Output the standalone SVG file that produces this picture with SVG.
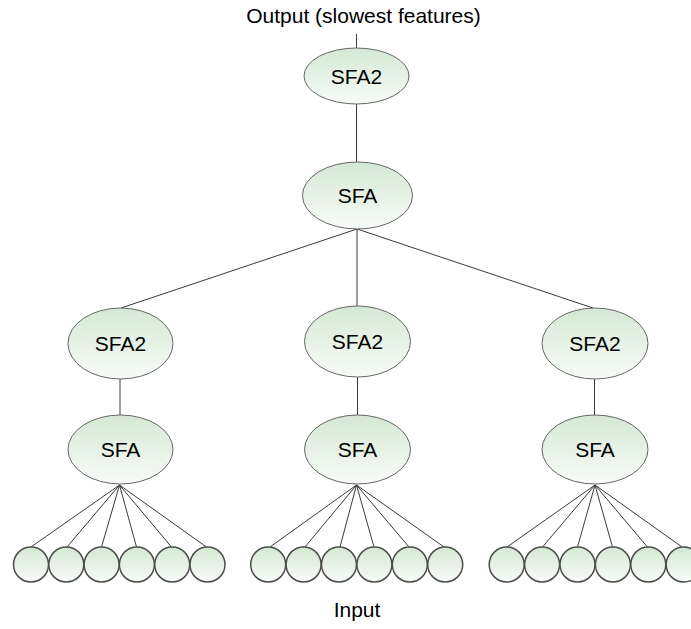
<svg xmlns="http://www.w3.org/2000/svg" width="691" height="629" viewBox="0 0 691 629">
  <defs>
    <linearGradient id="nodeFill" x1="0" y1="0" x2="0" y2="1">
      <stop offset="0" stop-color="#d5e8d4"/>
      <stop offset="1" stop-color="#f8fbf8"/>
    </linearGradient>
  </defs>
  <style>
    .node { fill: url(#nodeFill); stroke: #666666; stroke-width: 1; }
    .unit { fill: url(#nodeFill); stroke: #4d4d4d; stroke-width: 1.5; }
    .edge { stroke: #3a3a3a; stroke-width: 1; fill: none; }
    .lbl { font-family: "Liberation Sans", Arial, Helvetica, sans-serif; font-size: 21px; fill: #000000; text-anchor: middle; }
  </style>
  <rect width="691" height="629" fill="#ffffff"/>

  <!-- connectors -->
  <g id="edges">
    <line class="edge" x1="356.5" y1="34" x2="356.5" y2="48"/>
    <line class="edge" x1="356.5" y1="104" x2="356.5" y2="162"/>
    <line class="edge" x1="357" y1="229" x2="121" y2="308"/>
    <line class="edge" x1="357" y1="229" x2="357" y2="306"/>
    <line class="edge" x1="357" y1="229" x2="593" y2="308"/>
    <line class="edge" x1="120" y1="379" x2="120" y2="415"/>
    <line class="edge" x1="357.5" y1="377" x2="357.5" y2="415"/>
    <line class="edge" x1="594.5" y1="379" x2="594.5" y2="415"/>
    <!-- left fan -->
    <g>
      <line class="edge" x1="119.5" y1="485" x2="31" y2="547"/>
      <line class="edge" x1="119.5" y1="485" x2="67" y2="547"/>
      <line class="edge" x1="119.5" y1="485" x2="101.5" y2="547"/>
      <line class="edge" x1="119.5" y1="485" x2="136.5" y2="547"/>
      <line class="edge" x1="119.5" y1="485" x2="171.5" y2="547"/>
      <line class="edge" x1="119.5" y1="485" x2="206.5" y2="547"/>
    </g>
    <!-- middle fan -->
    <g>
      <line class="edge" x1="356.5" y1="485" x2="270" y2="547"/>
      <line class="edge" x1="356.5" y1="485" x2="305" y2="547"/>
      <line class="edge" x1="356.5" y1="485" x2="340" y2="547"/>
      <line class="edge" x1="356.5" y1="485" x2="374" y2="547"/>
      <line class="edge" x1="356.5" y1="485" x2="409" y2="547"/>
      <line class="edge" x1="356.5" y1="485" x2="444" y2="547"/>
    </g>
    <!-- right fan -->
    <g>
      <line class="edge" x1="595" y1="485" x2="507" y2="547"/>
      <line class="edge" x1="595" y1="485" x2="542.5" y2="547"/>
      <line class="edge" x1="595" y1="485" x2="577.5" y2="547"/>
      <line class="edge" x1="595" y1="485" x2="612.5" y2="547"/>
      <line class="edge" x1="595" y1="485" x2="647.5" y2="547"/>
      <line class="edge" x1="595" y1="485" x2="682" y2="547"/>
    </g>
  </g>

  <!-- labels -->
  <g id="output-label"><text class="lbl" x="363.5" y="23">Output (slowest features)</text></g>
  <g id="input-label"><text class="lbl" x="357" y="617">Input</text></g>

  <!-- top chain -->
  <g id="top-sfa2">
    <ellipse class="node" cx="356.5" cy="76" rx="52.5" ry="28"/>
    <text class="lbl" x="356.5" y="83.5">SFA2</text>
  </g>
  <g id="top-sfa">
    <ellipse class="node" cx="357.5" cy="195.5" rx="55" ry="33.5"/>
    <text class="lbl" x="357.5" y="203">SFA</text>
  </g>

  <!-- branch chains -->
  <g id="left-sfa2">
    <ellipse class="node" cx="120.5" cy="343.5" rx="52.5" ry="35.5"/>
    <text class="lbl" x="120.5" y="351">SFA2</text>
  </g>
  <g id="left-sfa">
    <ellipse class="node" cx="120.5" cy="449.5" rx="52.5" ry="34.5"/>
    <text class="lbl" x="120.5" y="457">SFA</text>
  </g>
  <g id="mid-sfa2">
    <ellipse class="node" cx="357.5" cy="341.5" rx="53" ry="35.5"/>
    <text class="lbl" x="357.5" y="349">SFA2</text>
  </g>
  <g id="mid-sfa">
    <ellipse class="node" cx="357.5" cy="449.5" rx="53" ry="34.5"/>
    <text class="lbl" x="357.5" y="457">SFA</text>
  </g>
  <g id="right-sfa2">
    <ellipse class="node" cx="595" cy="343.5" rx="53" ry="35.5"/>
    <text class="lbl" x="595" y="351">SFA2</text>
  </g>
  <g id="right-sfa">
    <ellipse class="node" cx="595" cy="449.5" rx="53" ry="34.5"/>
    <text class="lbl" x="595" y="457">SFA</text>
  </g>

  <!-- input units -->
  <g id="left-units">
    <circle class="unit" cx="31" cy="564.5" r="17.5"/>
    <circle class="unit" cx="66.3" cy="564.5" r="17.5"/>
    <circle class="unit" cx="101.6" cy="564.5" r="17.5"/>
    <circle class="unit" cx="136.9" cy="564.5" r="17.5"/>
    <circle class="unit" cx="172.2" cy="564.5" r="17.5"/>
    <circle class="unit" cx="207.5" cy="564.5" r="17.5"/>
  </g>
  <g id="mid-units">
    <circle class="unit" cx="268.2" cy="564.5" r="17.5"/>
    <circle class="unit" cx="303.6" cy="564.5" r="17.5"/>
    <circle class="unit" cx="339" cy="564.5" r="17.5"/>
    <circle class="unit" cx="374.4" cy="564.5" r="17.5"/>
    <circle class="unit" cx="409.8" cy="564.5" r="17.5"/>
    <circle class="unit" cx="445.2" cy="564.5" r="17.5"/>
  </g>
  <g id="right-units">
    <circle class="unit" cx="506.7" cy="564.5" r="17.5"/>
    <circle class="unit" cx="542.1" cy="564.5" r="17.5"/>
    <circle class="unit" cx="577.5" cy="564.5" r="17.5"/>
    <circle class="unit" cx="612.9" cy="564.5" r="17.5"/>
    <circle class="unit" cx="648.3" cy="564.5" r="17.5"/>
    <circle class="unit" cx="683.7" cy="564.5" r="17.5"/>
  </g>
</svg>
